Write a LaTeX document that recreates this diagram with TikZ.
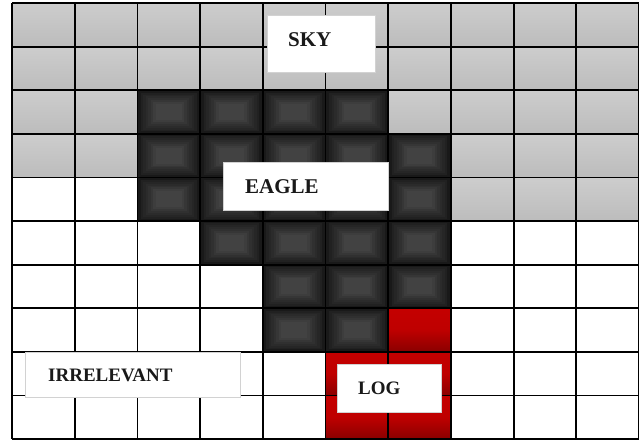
\documentclass[tikz,border=0pt]{standalone}
\usepackage{fontspec}
\setmainfont{Liberation Serif}
\definecolor{gtop}{RGB}{205,205,205}
\definecolor{gbot}{RGB}{188,188,188}
\definecolor{rtop}{RGB}{196,0,0}
\definecolor{rbot}{RGB}{138,0,0}
\tikzset{
  graycell/.style={top color=gtop,bottom color=gbot},
  redcell/.style={top color=rtop,bottom color=rbot,middle color=rtop!90!rbot},
  gridline/.style={line width=1.8pt,black},
  labelbox/.style={fill=white,draw=gray!35,line width=0.6pt,inner sep=0pt},
  labeltext/.style={font=\fontsize{19}{22}\selectfont\bfseries,text=black!90,inner sep=0pt,anchor=west},
  biglabeltext/.style={labeltext,font=\fontsize{21}{24}\selectfont\bfseries}
}
\begin{document}
\begin{tikzpicture}[x=1pt,y=-1pt]
\useasboundingbox (0,0) rectangle (639,440);
\fill[white] (0,0) rectangle (639,440);
% gray cells
\foreach \r/\a/\b in {0/0/9,1/0/9,2/0/1,2/6/9,3/0/1,3/7/9,4/7/9}{
  \foreach \c in {\a,...,\b}{
    \shade[graycell] ({12+62.7*\c},{3+43.6*\r}) rectangle ({12+62.7*(\c+1)},{3+43.6*(\r+1)});
  }}
% dark cells
\foreach \r/\a/\b in {2/2/5,3/2/6,4/2/6,5/3/6,6/4/6,7/4/5}{
  \foreach \c in {\a,...,\b}{
    \fill[black!90] ({12+62.7*\c},{3+43.6*\r}) rectangle ({12+62.7*(\c+1)},{3+43.6*(\r+1)});
    \foreach \k in {1,...,7}{
      \pgfmathtruncatemacro\sh{90-2.2*\k}
      \fill[black!\sh] ({12+62.7*\c+1+2.5*\k},{3+43.6*\r+0.5+1.9*\k}) rectangle ({12+62.7*(\c+1)-1-2.5*\k},{3+43.6*(\r+1)-0.5-1.9*\k});
    }}}
% red cells
\foreach \r/\a/\b in {7/6/6,8/5/6,9/5/6}{
  \foreach \c in {\a,...,\b}{
    \shade[redcell] ({12+62.7*\c},{3+43.6*\r}) rectangle ({12+62.7*(\c+1)},{3+43.6*(\r+1)});
  }}
% grid lines
\foreach \c in {0,...,10}{
  \draw[gridline] ({12+62.7*\c},3) -- ({12+62.7*\c},439);
}
\foreach \r in {0,...,10}{
  \draw[gridline] (12,{3+43.6*\r}) -- (639,{3+43.6*\r});
}
% labels
\node[labelbox,minimum width=108pt,minimum height=57pt] (skybox) at (321,43.5) {};
\node[biglabeltext] (sky) at (288,40) {SKY};
\node[labelbox,minimum width=165pt,minimum height=48pt] (eaglebox) at (305.5,186) {};
\node[biglabeltext] (eagle) at (245,187) {EAGLE};
\node[labelbox,minimum width=215pt,minimum height=45pt] (irrbox) at (132.5,374.5) {};
\node[labeltext] (irr) at (48,375) {IRRELEVANT};
\node[labelbox,minimum width=104pt,minimum height=48pt] (logbox) at (389,388) {};
\node[labeltext] (log) at (358,388) {LOG};
\end{tikzpicture}
\end{document}
